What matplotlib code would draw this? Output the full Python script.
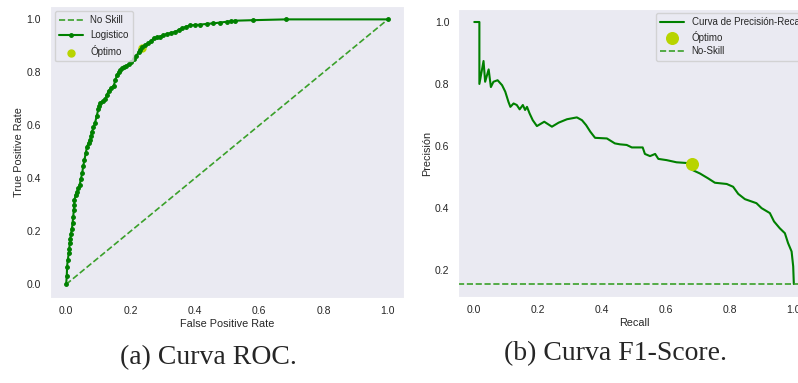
import matplotlib
matplotlib.use('Agg')
import matplotlib.pyplot as plt
import seaborn as sns

sns.set_style('dark')
plt.rcParams['font.family'] = ['Liberation Sans', 'DejaVu Sans']

# ROC curve
fpr = [0.0, 0.002, 0.003, 0.005, 0.008, 0.010, 0.011, 0.013, 0.015, 0.018, 0.020, 0.022,
       0.024, 0.025, 0.026, 0.030, 0.034, 0.038, 0.042, 0.046, 0.050, 0.053, 0.057, 0.061,
       0.065, 0.070, 0.075, 0.078, 0.080, 0.085, 0.090, 0.095, 0.100, 0.103, 0.106, 0.114,
       0.122, 0.127, 0.132, 0.140, 0.148, 0.153, 0.158, 0.163, 0.168, 0.174, 0.179, 0.187,
       0.194, 0.202, 0.210, 0.218, 0.225, 0.230, 0.236, 0.246, 0.256, 0.264, 0.272, 0.282,
       0.292, 0.302, 0.313, 0.326, 0.339, 0.350, 0.360, 0.372, 0.385, 0.400, 0.416, 0.437,
       0.458, 0.478, 0.499, 0.512, 0.525, 0.582, 0.683, 1.0]
tpr = [0.0, 0.030, 0.067, 0.090, 0.117, 0.135, 0.155, 0.172, 0.190, 0.210, 0.230, 0.255,
       0.280, 0.300, 0.320, 0.337, 0.350, 0.362, 0.375, 0.398, 0.420, 0.445, 0.470, 0.495,
       0.520, 0.533, 0.545, 0.560, 0.575, 0.592, 0.610, 0.635, 0.660, 0.673, 0.685, 0.692,
       0.700, 0.715, 0.730, 0.740, 0.750, 0.770, 0.790, 0.800, 0.810, 0.815, 0.820, 0.825,
       0.830, 0.840, 0.850, 0.862, 0.875, 0.885, 0.895, 0.903, 0.910, 0.919, 0.928, 0.932,
       0.935, 0.940, 0.945, 0.949, 0.953, 0.960, 0.966, 0.972, 0.977, 0.979, 0.980, 0.983,
       0.985, 0.988, 0.991, 0.993, 0.995, 0.997, 1.0, 1.0]
roc_opt = (0.236, 0.892)

# Precision-recall curve
recall = [0.0, 0.016, 0.016, 0.029, 0.034, 0.045, 0.052, 0.060, 0.073, 0.087, 0.097, 0.107,
          0.113, 0.123, 0.133, 0.142, 0.152, 0.159, 0.165, 0.173, 0.183, 0.196, 0.219, 0.243,
          0.264, 0.290, 0.321, 0.337, 0.350, 0.363, 0.378, 0.415, 0.440, 0.456, 0.477, 0.493,
          0.527, 0.534, 0.550, 0.566, 0.576, 0.602, 0.633, 0.675, 0.683, 0.706, 0.732, 0.753,
          0.790, 0.810, 0.826, 0.847, 0.883, 0.899, 0.925, 0.938, 0.956, 0.972, 0.982, 0.993,
          0.998, 1.0]
precision = [1.0, 1.0, 0.800, 0.874, 0.807, 0.847, 0.790, 0.807, 0.812, 0.796, 0.775, 0.742,
             0.726, 0.737, 0.732, 0.718, 0.732, 0.716, 0.726, 0.705, 0.683, 0.664, 0.678, 0.662,
             0.675, 0.686, 0.692, 0.683, 0.667, 0.646, 0.626, 0.624, 0.608, 0.605, 0.603, 0.595,
             0.595, 0.574, 0.567, 0.574, 0.558, 0.554, 0.547, 0.544, 0.522, 0.511, 0.495, 0.481,
             0.477, 0.468, 0.445, 0.428, 0.415, 0.399, 0.383, 0.356, 0.334, 0.318, 0.286, 0.259,
             0.211, 0.154]
pr_opt = (0.680, 0.541)
no_skill = 0.154

curve_c = 'green'
skill_c = '#3aa02a'
opt_c = '#b8d400'

fig = plt.figure(figsize=(7.98, 3.83), dpi=100)
ax1 = fig.add_axes([0.0627, 0.223, 0.4435, 0.761])
ax2 = fig.add_axes([0.5743, 0.2245, 0.4405, 0.752])

# ROC
ax1.plot([0, 1], [0, 1], linestyle='--', color=skill_c, lw=1.2, label='No Skill')
ax1.plot(fpr, tpr, marker='.', color=curve_c, lw=1.5, ms=5, label='Logistico')
ax1.scatter([roc_opt[0]], [roc_opt[1]], s=25, color=opt_c, label='Óptimo', zorder=1)
ax1.set_xlabel('False Positive Rate', fontsize=7.8, labelpad=2)
ax1.set_ylabel('True Positive Rate', fontsize=7.8, labelpad=2)
ax1.tick_params(axis='x', labelsize=7.5, length=0, pad=6)
ax1.tick_params(axis='y', labelsize=7.5, length=0, pad=6.5)
ax1.legend(loc='upper left', fontsize=7, handlelength=2.4, borderpad=0.45,
           labelspacing=0.5)

# Precision-Recall
ax2.plot(recall, precision, color=curve_c, lw=1.5, label='Curva de Precisión-Recall')
ax2.scatter([pr_opt[0]], [pr_opt[1]], s=70, color=opt_c, label='Óptimo', zorder=3)
ax2.axhline(no_skill, linestyle='--', color=skill_c, lw=1.2, label='No-Skill')
ax2.set_xlim(-0.05, 1.05)
ax2.set_ylim(0.112, 1.042)
ax2.set_yticks([0.2, 0.4, 0.6, 0.8, 1.0])
ax2.set_xlabel('Recall', fontsize=7.8, labelpad=2)
ax2.set_ylabel('Precisión', fontsize=7.8, labelpad=2)
ax2.tick_params(axis='x', labelsize=7.5, length=0, pad=6)
ax2.tick_params(axis='y', labelsize=7.5, length=0, pad=6.5)
ax2.legend(loc='upper left', bbox_to_anchor=(0.5625, 0.986), borderaxespad=0,
           fontsize=7, handlelength=2.4, borderpad=0.45, labelspacing=0.35)

fig.text(0.261, 0.066, '(a) Curva ROC.', ha='center', va='center',
         fontsize=20, family='Liberation Serif')
fig.text(0.771, 0.078, '(b) Curva F1-Score.', ha='center', va='center',
         fontsize=20, family='Liberation Serif')

fig.savefig('out.png', dpi=100)
